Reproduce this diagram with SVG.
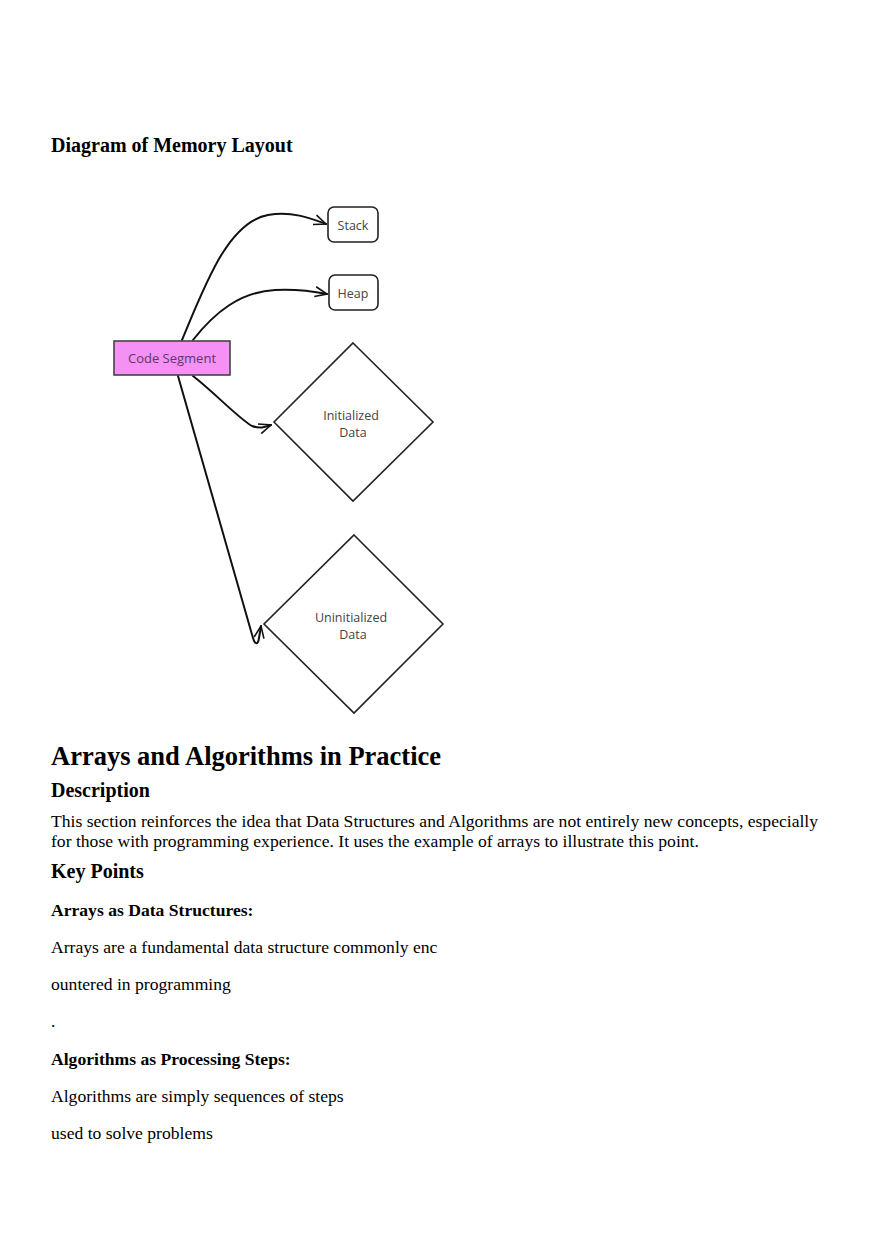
<svg xmlns="http://www.w3.org/2000/svg" width="880" height="1245" viewBox="0 0 880 1245">
<style>
.h{font-family:"Liberation Serif","Times New Roman",serif;font-weight:bold;fill:#000}
.b{font-family:"Liberation Serif","Times New Roman",serif;fill:#000;font-size:17.6px}
.lbl{font-family:"Open Sans","Noto Sans",sans-serif;font-size:12.5px;fill:#444;text-anchor:middle}
.node{fill:#fff;stroke:#222;stroke-width:1.6}
.edge{fill:none;stroke:#111;stroke-width:2;stroke-linecap:round;stroke-linejoin:round}
</style>
<defs>
<marker id="arr" viewBox="0 0 14 12" refX="13" refY="6" markerWidth="14" markerHeight="12" markerUnits="userSpaceOnUse" orient="auto">
<path d="M1 1 L13 6 L1 11" fill="none" stroke="#111" stroke-width="1.6"/>
</marker>
</defs>
<rect width="880" height="1245" fill="#fff"/>
<text class="h" x="51" y="152" font-size="20">Diagram of Memory Layout</text>
<g id="connectors">
<path class="edge" d="M182 340 C 205 285, 228 222, 268 215 C 292 211, 310 218, 326 224" marker-end="url(#arr)"/>
<path class="edge" d="M193 340 C 215 312, 240 292, 275 290 C 295 289, 312 291, 327 294" marker-end="url(#arr)"/>
<path class="edge" d="M193 376 C 215 393, 238 418, 252 426 C 260 429, 265 427, 271 425" marker-end="url(#arr)"/>
<path class="edge" d="M178 376 L 253 638 C 255 645, 258 645, 259 638 L 261 626" marker-end="url(#arr)"/>
</g>
<g id="stack">
<rect class="node" x="328" y="207" width="50" height="35" rx="6"/>
<text class="lbl" x="353" y="230">Stack</text>
</g>
<g id="heap">
<rect class="node" x="329" y="275" width="49" height="35" rx="6"/>
<text class="lbl" x="353" y="298">Heap</text>
</g>
<g id="code-segment">
<rect x="114" y="341" width="116" height="34" fill="#f590f5" stroke="#444" stroke-width="1.6"/>
<text class="lbl" x="172" y="363" style="fill:#5a3868;font-size:13px">Code Segment</text>
</g>
<g id="initialized-data">
<polygon class="node" points="353,343 433,422 353,501 274,422"/>
<text class="lbl" x="351" y="420">Initialized</text>
<text class="lbl" x="353" y="437">Data</text>
</g>
<g id="uninitialized-data">
<polygon class="node" points="354,535 443,624 354,713 264,624"/>
<text class="lbl" x="351" y="622">Uninitialized</text>
<text class="lbl" x="353" y="639">Data</text>
</g>
<text class="h" x="51" y="765" font-size="26.5">Arrays and Algorithms in Practice</text>
<text class="h" x="51" y="797" font-size="20">Description</text>
<text class="b" x="51" y="827">This section reinforces the idea that Data Structures and Algorithms are not entirely new concepts, especially</text>
<text class="b" x="51" y="847">for those with programming experience. It uses the example of arrays to illustrate this point.</text>
<text class="h" x="51" y="878" font-size="20">Key Points</text>
<text class="h" x="51" y="916" font-size="17.6">Arrays as Data Structures:</text>
<text class="b" x="51" y="953">Arrays are a fundamental data structure commonly enc</text>
<text class="b" x="51" y="990">ountered in programming</text>
<text class="b" x="51" y="1027">.</text>
<text class="h" x="51" y="1065" font-size="17.6">Algorithms as Processing Steps:</text>
<text class="b" x="51" y="1102">Algorithms are simply sequences of steps</text>
<text class="b" x="51" y="1139">used to solve problems</text>
</svg>
